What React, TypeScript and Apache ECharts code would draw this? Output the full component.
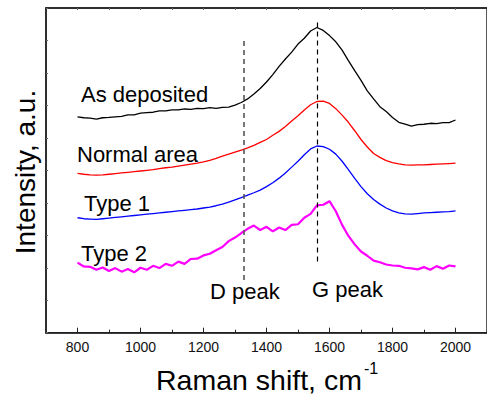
import React, { useEffect, useRef } from "react";
import * as echarts from "echarts";

const shift = [
  800, 820, 840, 860, 880, 900, 920, 940, 960, 980,
  1000, 1020, 1040, 1060, 1080, 1100, 1120, 1140, 1160, 1180,
  1200, 1220, 1240, 1260, 1280, 1300, 1320, 1340, 1360, 1380,
  1400, 1420, 1440, 1460, 1480, 1500, 1520, 1540, 1560, 1580,
  1600, 1620, 1640, 1660, 1680, 1700, 1720, 1740, 1760, 1780,
  1800, 1820, 1840, 1860, 1880, 1900, 1920, 1940, 1960, 1980, 2000,
];

const asDeposited = [
  6.65, 6.62, 6.61, 6.58, 6.62, 6.63, 6.65, 6.66, 6.71, 6.71,
  6.76, 6.78, 6.79, 6.83, 6.83, 6.86, 6.86, 6.89, 6.88, 6.91,
  6.90, 6.93, 6.91, 6.94, 6.95, 7.01, 7.09, 7.20, 7.35, 7.52,
  7.72, 7.95, 8.20, 8.43, 8.64, 8.89, 9.07, 9.29, 9.40, 9.31,
  9.15, 8.96, 8.70, 8.38, 8.07, 7.77, 7.45, 7.20, 6.96, 6.81,
  6.63, 6.48, 6.42, 6.36, 6.41, 6.42, 6.45, 6.44, 6.47, 6.47, 6.55,
];

const normalArea = [
  4.91, 4.88, 4.86, 4.85, 4.86, 4.88, 4.90, 4.92, 4.94, 4.96,
  4.98, 5.00, 5.02, 5.05, 5.08, 5.10, 5.13, 5.16, 5.19, 5.22,
  5.26, 5.31, 5.37, 5.44, 5.50, 5.56, 5.62, 5.69, 5.77, 5.86,
  5.95, 6.08, 6.20, 6.35, 6.52, 6.68, 6.86, 7.02, 7.12, 7.13,
  7.06, 6.90, 6.70, 6.48, 6.22, 5.95, 5.72, 5.52, 5.40, 5.30,
  5.24, 5.20, 5.17, 5.16, 5.17, 5.17, 5.18, 5.19, 5.20, 5.21, 5.22,
];

const type1 = [
  3.54, 3.51, 3.50, 3.49, 3.51, 3.53, 3.55, 3.57, 3.59, 3.61,
  3.63, 3.65, 3.67, 3.69, 3.71, 3.73, 3.75, 3.77, 3.79, 3.81,
  3.84, 3.87, 3.91, 3.96, 4.02, 4.09, 4.16, 4.24, 4.31, 4.39,
  4.50, 4.62, 4.76, 4.92, 5.10, 5.28, 5.48, 5.66, 5.75, 5.73,
  5.65, 5.50, 5.28, 5.02, 4.75, 4.50, 4.28, 4.10, 3.96, 3.84,
  3.75, 3.69, 3.66, 3.65, 3.67, 3.69, 3.70, 3.71, 3.72, 3.73, 3.75,
];

const type2 = [
  2.16, 2.04, 2.03, 1.94, 2.01, 1.90, 1.99, 1.88, 1.96, 1.86,
  2.00, 1.94, 2.06, 1.99, 2.12, 2.06, 2.19, 2.12, 2.27, 2.28,
  2.38, 2.43, 2.54, 2.64, 2.82, 2.93, 3.07, 3.20, 3.30, 3.16,
  3.26, 3.12, 3.24, 3.16, 3.32, 3.34, 3.54, 3.66, 3.92, 3.94,
  4.05, 3.74, 3.32, 2.98, 2.72, 2.50, 2.37, 2.22, 2.17, 2.10,
  2.07, 2.06, 2.00, 1.98, 1.95, 2.02, 1.94, 2.05, 1.97, 2.07, 2.04,
];

const majorTicks = [800, 1000, 1200, 1400, 1600, 1800, 2000];
const minorTicks = [900, 1100, 1300, 1500, 1700, 1900];
const topTicks = [800, 900, 1000, 1100, 1200, 1300, 1400, 1500, 1600, 1700, 1800, 1900, 2000];

const dPeak = { x: 1328, y0: 1.62, y1: 9.09 };
const gPeak = { x: 1562, y0: 2.19, y1: 9.63 };

const FONT = "'Liberation Sans', Arial, Helvetica, sans-serif";

export default function App() {
  const ref = useRef<HTMLDivElement>(null);
  useEffect(() => {
    if (!ref.current) return;
    const chart = echarts.init(ref.current, undefined, { renderer: "svg" });
    const mk = (arr: number[]) => shift.map((s, i) => [s, arr[i]]);
    const axisColor = "#222";
    const labelText = (text: string, x: number, y: number, size = 22, lh?: number) => ({
      type: "text",
      x,
      y,
      style: {
        text,
        fontSize: size,
        fontFamily: FONT,
        fill: "#000",
        textAlign: "left",
        textVerticalAlign: "middle",
        lineHeight: lh ?? size,
      },
    });
    chart.setOption({
      animation: false,
      backgroundColor: "#fff",
      grid: {
        left: 46,
        top: 8,
        right: -3,
        bottom: 62.3,
        show: true,
        borderColor: axisColor,
        borderWidth: 1.5,
      },
      xAxis: [
        {
          type: "value",
          position: "bottom",
          min: 700,
          max: 2100,
          splitLine: { show: false },
          axisLine: { show: true, lineStyle: { color: axisColor, width: 1.5 } },
          axisTick: {
            show: true,
            inside: true,
            length: 5,
            customValues: majorTicks,
            lineStyle: { color: axisColor, width: 1 },
          },
          axisLabel: {
            show: true,
            customValues: majorTicks,
            formatter: (v: number) => String(v),
            fontSize: 14,
            fontFamily: FONT,
            color: "#111",
            margin: 7,
          },
        },
        {
          type: "value",
          position: "bottom",
          min: 700,
          max: 2100,
          splitLine: { show: false },
          axisLine: { show: false },
          axisTick: {
            show: true,
            inside: true,
            length: 3,
            customValues: minorTicks,
            lineStyle: { color: axisColor, width: 1 },
          },
          axisLabel: { show: false },
        },
        {
          type: "value",
          position: "top",
          min: 700,
          max: 2100,
          splitLine: { show: false },
          axisLine: { show: true, lineStyle: { color: axisColor, width: 1.5 } },
          axisTick: {
            show: true,
            inside: true,
            length: 2,
            customValues: topTicks,
            lineStyle: { color: "#666", width: 1 },
          },
          axisLabel: { show: false },
        },
      ],
      yAxis: {
        type: "value",
        min: 0,
        max: 10,
        interval: 1,
        splitLine: { show: false },
        axisLine: { show: true, lineStyle: { color: axisColor, width: 1.5 } },
        axisTick: { show: true, inside: true, length: 2, lineStyle: { color: "#666" } },
        axisLabel: { show: false },
      },
      series: [
        {
          type: "line",
          name: "As deposited",
          data: mk(asDeposited),
          showSymbol: false,
          lineStyle: { color: "#000", width: 1.3 },
          markLine: {
            silent: true,
            symbol: "none",
            label: { show: false },
            data: [
              [
                { coord: [dPeak.x, dPeak.y0], lineStyle: { color: "#555", width: 1.6, type: [5, 4] } },
                { coord: [dPeak.x, dPeak.y1] },
              ],
              [
                { coord: [gPeak.x, gPeak.y0], lineStyle: { color: "#000", width: 1.2, type: [5, 4] } },
                { coord: [gPeak.x, gPeak.y1] },
              ],
            ],
          },
        },
        {
          type: "line",
          name: "Normal area",
          data: mk(normalArea),
          showSymbol: false,
          lineStyle: { color: "#ff0000", width: 1.3 },
        },
        {
          type: "line",
          name: "Type 1",
          data: mk(type1),
          showSymbol: false,
          lineStyle: { color: "#0000ff", width: 1.3 },
        },
        {
          type: "line",
          name: "Type 2",
          data: mk(type2),
          showSymbol: false,
          lineStyle: { color: "#ff00ff", width: 2.2 },
        },
      ],
      graphic: [
        labelText("As deposited", 81, 94),
        labelText("Normal area", 77, 154),
        labelText("Type 1", 84, 203),
        labelText("Type 2", 81, 253),
        labelText("D peak", 210, 291),
        labelText("G peak", 312, 289),
        labelText("Raman shift, cm", 156, 380, 28.5, 24),
        labelText("-1", 364, 368, 16),
        {
          type: "text",
          x: 25,
          y: 172,
          rotation: Math.PI / 2,
          style: {
            text: "Intensity, a.u.",
            fontSize: 28,
            fontFamily: FONT,
            fill: "#000",
            textAlign: "center",
            textVerticalAlign: "middle",
          },
        },
      ],
    });
    return () => chart.dispose();
  }, []);
  return (
    <div
      ref={ref}
      style={{ position: "fixed", left: 0, top: 0, width: 487, height: 395 }}
    />
  );
}
